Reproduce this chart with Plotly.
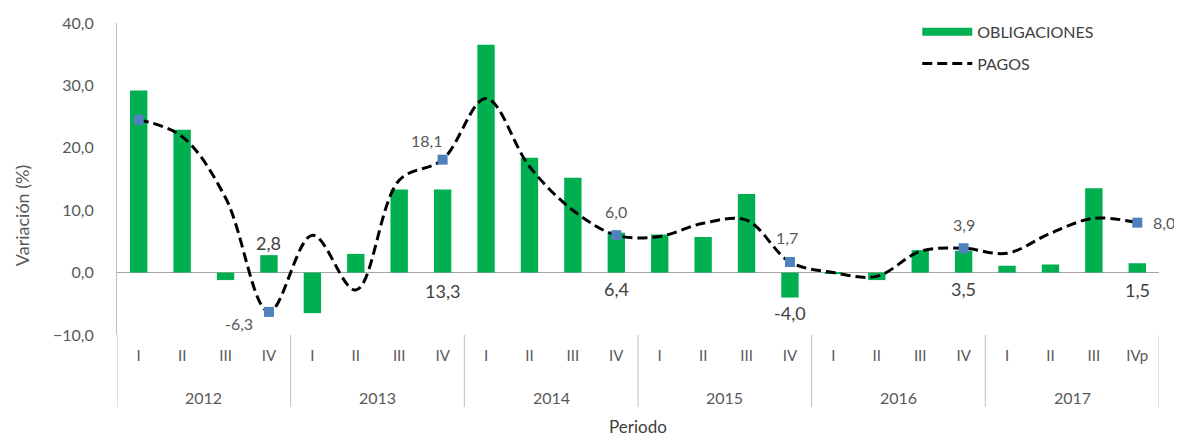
import plotly.graph_objects as go

# ---------------- data ----------------
years = ["2012"] * 4 + ["2013"] * 4 + ["2014"] * 4 + ["2015"] * 4 + ["2016"] * 4 + ["2017"] * 4
quarters = ["I", "II", "III", "IV"] * 5 + ["I", "II", "III", "IVp"]

obligaciones = [29.2, 22.9, -1.2, 2.8,
                -6.5, 3.0, 13.3, 13.3,
                36.5, 18.4, 15.2, 6.4,
                6.1, 5.7, 12.6, -4.0,
                -0.1, -1.2, 3.6, 3.5,
                1.1, 1.3, 13.5, 1.5]

pagos = [24.5, 21.8, 12.0, -6.3,
         6.0, -2.8, 14.8, 18.1,
         27.9, 17.0, 10.0, 6.0,
         5.8, 7.9, 8.4, 1.7,
         0.0, -0.6, 3.4, 3.9,
         3.1, 6.3, 8.7, 8.0]

pagos_marker_idx = [0, 3, 7, 11, 15, 19, 23]
pagos_label_idx = [3, 7, 11, 15, 19, 23]
oblig_label_idx = [3, 7, 11, 15, 19, 23]

y_ticks = [-10, 0, 10, 20, 30, 40]

# label offsets in pixels (style only)
pagos_label_shift = [(-30, -12), (-16, 19), (0, 24), (-3, 24), (0, 24), (27, 0)]
oblig_label_anchor_top = [True, False, False, False, False, False]
oblig_label_shift = [12, -18, -16, -15, -16, -17]


def fmt(v):
    return f"{v:.1f}".replace(".", ",")


FONT = "Lato"
GREY = "#595959"
DARK = "#404040"

xs = list(range(len(quarters)))

fig = go.Figure()

fig.add_trace(go.Bar(
    x=xs, y=obligaciones, name="OBLIGACIONES",
    marker=dict(color="#00B050", line=dict(width=0)),
    width=0.4, showlegend=False, hoverinfo="y",
))

# legend-only entry for the bars (wide green swatch as in the original)
fig.add_trace(go.Scatter(
    x=[None], y=[None], mode="lines", name="OBLIGACIONES",
    line=dict(color="#00B050", width=8), legendgroup="a",
))

fig.add_trace(go.Scatter(
    x=xs, y=pagos, name="PAGOS", mode="lines",
    line=dict(color="black", width=3, dash="10px,5px", shape="spline", smoothing=1.0),
    legendgroup="b",
))

# markers on PAGOS
fig.add_trace(go.Scatter(
    x=[xs[i] for i in pagos_marker_idx], y=[pagos[i] for i in pagos_marker_idx],
    mode="markers",
    marker=dict(symbol="square", size=10, color="#4F81BD"),
    showlegend=False,
))

annotations = []
# PAGOS labels
for i, (dx, dy) in zip(pagos_label_idx, pagos_label_shift):
    annotations.append(dict(
        text=fmt(pagos[i]), x=xs[i], y=pagos[i], xref="x", yref="y",
        xshift=dx, yshift=dy, xanchor="center", yanchor="middle", showarrow=False,
        font=dict(family=FONT, size=16, color=GREY)))

# OBLIGACIONES labels
for i, top, dy in zip(oblig_label_idx, oblig_label_anchor_top, oblig_label_shift):
    v = obligaciones[i]
    yv = v if (top or v < 0) else 0
    annotations.append(dict(
        text=fmt(v), x=xs[i], y=yv, xref="x", yref="y",
        yshift=dy, xanchor="center", yanchor="middle", showarrow=False,
        font=dict(family=FONT, size=18, color=DARK)))

# year group labels and dividers
shapes = []
uniq_years = list(dict.fromkeys(years))
for yv in uniq_years:
    idx = [i for i, y in enumerate(years) if y == yv]
    annotations.append(dict(
        text=yv, x=sum(idx) / len(idx), xref="x", y=0, yref="paper",
        yshift=-62, yanchor="middle", xanchor="center", showarrow=False,
        font=dict(family=FONT, size=16, color=GREY)))
    shapes.append(dict(type="line", xref="x", yref="paper",
                       x0=idx[0] - 0.5, x1=idx[0] - 0.5, y0=0, y1=-0.231,
                       line=dict(color="#BFBFBF", width=1)))
shapes.append(dict(type="line", xref="x", yref="paper",
                   x0=xs[-1] + 0.5, x1=xs[-1] + 0.5, y0=0, y1=-0.231,
                   line=dict(color="#BFBFBF", width=1)))

annotations += [
    dict(text="Variación (%)", textangle=-90, xref="paper", yref="paper",
         x=0, xshift=-95, y=0.381, xanchor="center", yanchor="middle",
         showarrow=False, font=dict(family=FONT, size=18, color=GREY)),
    dict(text="Periodo", xref="paper", yref="paper",
         x=0.5, y=0, yshift=-91, xanchor="center", yanchor="middle",
         showarrow=False, font=dict(family=FONT, size=17, color=DARK)),
]

# the page body has an 8px margin, so the figure is kept smaller than the window
fig.update_layout(
    width=1174, height=432,
    margin=dict(l=109, r=23, t=15, b=105, autoexpand=False),
    paper_bgcolor="white", plot_bgcolor="white",
    separators=",.",
    font=dict(family=FONT, size=15, color=GREY),
    showlegend=True,
    legend=dict(
        x=0.768, y=1.026, xanchor="left", yanchor="top",
        font=dict(family=FONT, size=16, color=DARK),
        tracegroupgap=8, bgcolor="rgba(0,0,0,0)", itemwidth=50,
    ),
    xaxis=dict(
        range=[-0.5, len(xs) - 0.5], tickvals=xs, ticktext=quarters,
        showgrid=False, showline=False, zeroline=False, ticks="",
        ticklabelstandoff=10, automargin=False,
        tickfont=dict(family=FONT, size=15, color=GREY),
    ),
    yaxis=dict(
        range=[-10, 40], tickvals=y_ticks, tickformat=".1f",
        showgrid=False, zeroline=True, zerolinecolor="#A6A6A6", zerolinewidth=1,
        showline=True, linecolor="#BFBFBF", linewidth=1, ticks="",
        ticklabelstandoff=19, automargin=False,
        tickfont=dict(family=FONT, size=16, color=GREY),
    ),
    annotations=annotations,
    shapes=shapes,
)

fig.write_html("out.html")
